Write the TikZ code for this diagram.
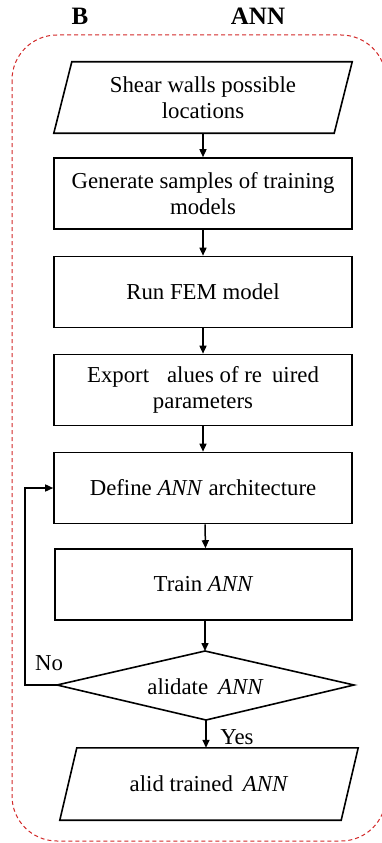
\documentclass[tikz,border=0pt]{standalone}
\usepackage{fontspec}
\setmainfont{Liberation Serif}
\usetikzlibrary{arrows.meta}
\begin{document}
\begin{tikzpicture}[x=1pt,y=-1pt,
  procbox/.style={draw, line width=1.6pt, minimum width=298pt, minimum height=71pt, inner sep=0pt, align=center, font=\fontsize{22.8}{26.5}\selectfont},
  iobox/.style={inner sep=0pt, align=center, font=\fontsize{22.8}{26.5}\selectfont},
  shapeline/.style={line width=1.6pt, line join=miter},
  flow/.style={line width=1.5pt, -{Triangle[length=8pt,width=7pt]}},
  title/.style={font=\fontsize{25}{28}\selectfont\bfseries, inner sep=0pt}
]
\useasboundingbox (0,0) rectangle (382,843);
% dashed frame
\draw[draw={rgb,255:red,210;green,40;blue,40}, line width=1pt, dash pattern=on 4pt off 3pt, rounded corners=45pt]
  (12,35) rectangle (386,841);
% titles
\node[title] (tB) at (80,16) {B};
\node[title] (tANN) at (258,16) {ANN};
% input parallelogram
\node[iobox, minimum width=280pt, minimum height=71pt] (p1) at (203,97.5) {Shear walls possible\\locations};
\draw[shapeline] ([xshift=9pt]p1.north west) -- ([xshift=9pt]p1.north east) -- ([xshift=-9pt]p1.south east) -- ([xshift=-9pt]p1.south west) -- cycle;
% process boxes
\node[procbox] (b2) at (203,193.5) {Generate samples of training\\models};
\node[procbox] (b3) at (203,292) {Run FEM model};
\node[procbox] (b4) at (203,390) {Export\hspace{18pt}alues of re\hspace{10pt}uired\\parameters};
\node[procbox] (b5) at (203,488) {Define \textit{ANN} architecture};
\node[procbox, minimum width=297pt] (b6) at (203.5,584.5) {Train \textit{ANN}};
% decision diamond
\node[iobox] (d) at (205.5,686.5) {alidate\hspace{10pt}\textit{ANN}};
\coordinate (dT) at (205,651);
\coordinate (dL) at (57,685);
\coordinate (dR) at (354,685);
\coordinate (dB) at (206,720);
\draw[shapeline] (dT) -- (dR) -- (dB) -- (dL) -- cycle;
% output parallelogram
\node[iobox, minimum width=281pt, minimum height=72pt] (p2) at (209,784) {alid trained\hspace{10pt}\textit{ANN}};
\draw[shapeline] ([xshift=8.5pt]p2.north west) -- ([xshift=8.5pt]p2.north east) -- ([xshift=-8.5pt]p2.south east) -- ([xshift=-8.5pt]p2.south west) -- cycle;
% connectors
\draw[flow] (p1.south) -- (b2.north);
\draw[flow] (b2.south) -- (b3.north);
\draw[flow] (b3.south) -- (b4.north);
\draw[flow] (b4.south) -- (b5.north);
\draw[flow] ([xshift=2pt]b5.south) -- ([xshift=2pt]b6.north);
\draw[flow] ([xshift=1.5pt]b6.south) -- (dT);
\coordinate (loopA) at (25,685);
\coordinate (loopB) at (25,488);
\draw[flow] (dL) -- (loopA) -- (loopB) -- (b5.west);
\node[iobox] (no) at (49,663) {No};
\draw[flow] (dB) -- (dB |- p2.north);
\node[iobox] (yes) at (237,737) {Yes};
\end{tikzpicture}
\end{document}
